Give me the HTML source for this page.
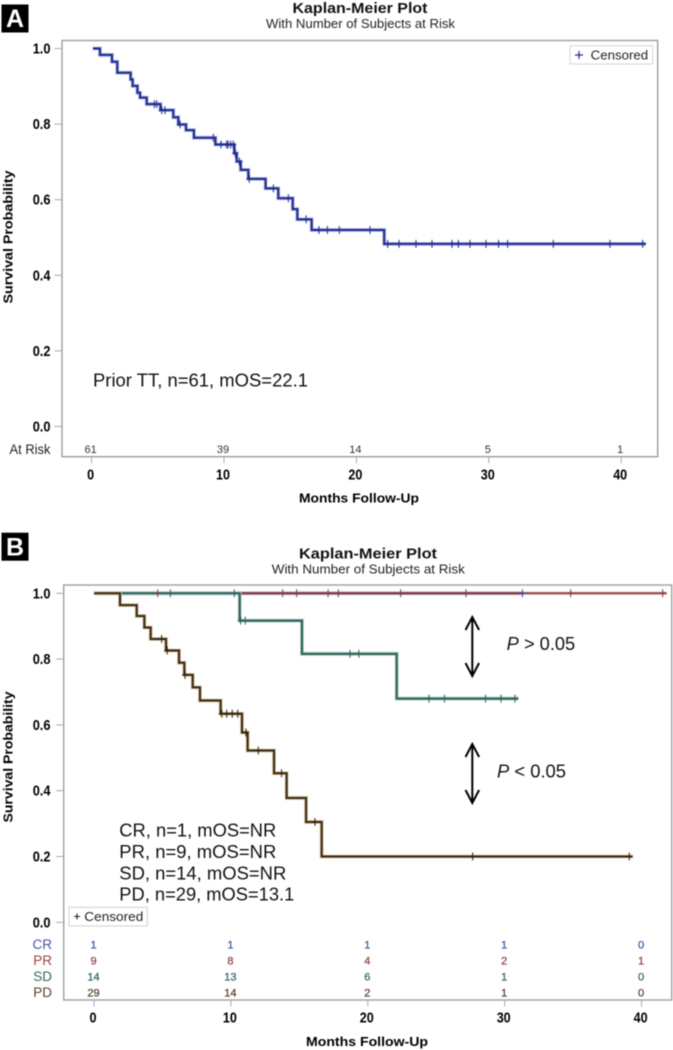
<!DOCTYPE html>
<html lang="en">
<head>
<meta charset="utf-8">
<title>Kaplan-Meier Plots</title>
<style>
html,body{margin:0;padding:0;background:#fff;width:673px;height:1050px;overflow:hidden}
svg{display:block;filter:blur(.45px)}
text{font-family:"Liberation Sans",Arial,sans-serif}
.title{font-size:15px;font-weight:bold;fill:#111;text-anchor:middle}
.sub{font-size:12.5px;fill:#222;text-anchor:middle}
.axt{font-size:13px;font-weight:bold;fill:#000}
.note{font-size:18px;fill:#111}
.leg{font-size:12.5px;fill:#222}
.badge{font-size:25px;font-weight:bold;fill:#fff;text-anchor:middle}
.frame{fill:#fff;stroke:#a0a4a9;stroke-width:1.5}
</style>
</head>
<body>
<svg id="fig" xmlns="http://www.w3.org/2000/svg" width="673" height="1050" viewBox="0 0 673 1050">
  <rect x="0" y="0" width="673" height="1050" fill="#fff"/>

  <g id="panelA">
    <rect x="1.5" y="4.5" width="27" height="28" fill="#000"/>
    <text class="badge" x="15" y="27">A</text>
    <text class="title" x="360" y="13" textLength="135" lengthAdjust="spacingAndGlyphs">Kaplan-Meier Plot</text>
    <text class="sub" x="360.5" y="28" textLength="189" lengthAdjust="spacingAndGlyphs">With Number of Subjects at Risk</text>
    <rect class="frame" x="62" y="40.5" width="595.7" height="416.2"/>
    <text class="axt" transform="translate(12.5,237) rotate(-90)" text-anchor="middle" textLength="133" lengthAdjust="spacingAndGlyphs">Survival Probability</text>
    <text class="axt" x="359" y="502.5" text-anchor="middle" textLength="120" lengthAdjust="spacingAndGlyphs">Months Follow-Up</text>
    <text class="note" x="93" y="386.5" textLength="215" lengthAdjust="spacingAndGlyphs">Prior TT, n=61, mOS=22.1</text>
    <rect x="570" y="45.7" width="82.7" height="18.3" fill="#fff" stroke="#d2d4d8" stroke-width="1"/>
    <path d="M575 55h8M579 51v8" stroke="#2a2f8c" stroke-width="1.2" fill="none"/>
    <text class="leg" x="590.7" y="59.5" textLength="57.5" lengthAdjust="spacingAndGlyphs">Censored</text>
    <text x="9.5" y="454" font-size="14" fill="#222" textLength="41" lengthAdjust="spacingAndGlyphs">At Risk</text>
  </g>

  <g id="panelB">
    <rect x="1.5" y="532.7" width="27" height="28" fill="#000"/>
    <text class="badge" x="15" y="555.5">B</text>
    <text class="title" x="368" y="558.5" textLength="138" lengthAdjust="spacingAndGlyphs">Kaplan-Meier Plot</text>
    <text class="sub" x="368.3" y="573.5" textLength="193" lengthAdjust="spacingAndGlyphs">With Number of Subjects at Risk</text>
    <rect class="frame" x="63.7" y="585" width="608" height="415"/>
    <text class="axt" transform="translate(12.5,757) rotate(-90)" text-anchor="middle" textLength="131" lengthAdjust="spacingAndGlyphs">Survival Probability</text>
    <text class="axt" x="367" y="1046" text-anchor="middle" textLength="122" lengthAdjust="spacingAndGlyphs">Months Follow-Up</text>
    <text class="note" x="119.3" y="836.7" textLength="157" lengthAdjust="spacingAndGlyphs">CR, n=1, mOS=NR</text>
    <text class="note" x="119.3" y="858" textLength="157" lengthAdjust="spacingAndGlyphs">PR, n=9, mOS=NR</text>
    <text class="note" x="119.3" y="879.3" textLength="167" lengthAdjust="spacingAndGlyphs">SD, n=14, mOS=NR</text>
    <text class="note" x="119.3" y="900.7" textLength="175" lengthAdjust="spacingAndGlyphs">PD, n=29, mOS=13.1</text>
    <rect x="69" y="907.3" width="78.3" height="18.7" fill="#fff" stroke="#cfd1d4" stroke-width="1"/>
    <path d="M74 916.5h6M77 913.5v6" stroke="#222" stroke-width="1.1" fill="none"/>
    <text class="leg" x="84.3" y="920.8" textLength="59" lengthAdjust="spacingAndGlyphs">Censored</text>
    <g fill="none" stroke="#000" stroke-width="2">
      <path d="M472.3 617.5V676M465.5 630l6.8-13 6.8 13M465.5 663l6.8 13 6.8-13"/>
    </g>
    <g fill="none" stroke="#000" stroke-width="2">
      <path d="M472.3 744V802.5M465.5 757l6.8-13 6.8 13M465.5 790l6.8 13 6.8-13"/>
    </g>
    <text class="note" x="506.7" y="650" textLength="68.5" lengthAdjust="spacingAndGlyphs"><tspan font-style="italic">P</tspan> &gt; 0.05</text>
    <text class="note" x="497" y="777.5" textLength="69" lengthAdjust="spacingAndGlyphs"><tspan font-style="italic">P</tspan> &lt; 0.05</text>
  </g>
</svg>
<script>
// Shared axis ticks
const xTickValues = [0, 10, 20, 30, 40];
const yTickValues = [0, 0.2, 0.4, 0.6, 0.8, 1];
const xTickLabels = ['0', '10', '20', '30', '40'];
const yTickLabels = ['0.0', '0.2', '0.4', '0.6', '0.8', '1.0'];

// Panel A: Prior TT
const priorStart = 0.1;
const priorEnd = 41.87;
const priorDropTimes = [0.63, 1.54, 1.94, 2.95, 3.1, 3.46, 3.66, 4.16, 5.2, 6.17, 6.55, 7.13, 7.73, 9.35, 10.78, 10.96, 11.26, 11.84, 13.14, 14.1, 15.19, 15.54, 16.62, 22.1];
const priorDropValues = [0.983, 0.965, 0.936, 0.918, 0.901, 0.883, 0.87, 0.853, 0.837, 0.818, 0.799, 0.784, 0.764, 0.746, 0.723, 0.701, 0.679, 0.655, 0.63, 0.604, 0.575, 0.548, 0.52, 0.483];
const priorCensorTimes = [4.74, 4.91, 5.3, 5.54, 6.68, 9.19, 9.77, 10.2, 10.3, 10.5, 10.7, 10.85, 11.16, 11.91, 13.73, 14.86, 16.2, 17.17, 17.81, 18.71, 21.03, 22.36, 23.22, 24.5, 25.71, 27.22, 27.7, 28.58, 29.79, 30.74, 31.42, 34.87, 39.15, 41.62];
const priorRiskCounts = [61, 39, 14, 5, 1];

// Panel B: response groups
const groupNames = ['CR', 'PR', 'SD', 'PD'];
const crDropTimes = [];
const crDropValues = [];
const crEnd = 31.3;
const crCensorTimes = [31.3];
const crRiskCounts = [1, 1, 1, 1, 0];

const prDropTimes = [];
const prDropValues = [];
const prEnd = 41.83;
const prCensorTimes = [4.65, 13.78, 14.8, 17.1, 17.85, 22.4, 27.17, 34.82, 41.54];
const prRiskCounts = [9, 8, 4, 2, 1];

const sdDropTimes = [10.64, 15.19, 22.11];
const sdDropValues = [0.917, 0.816, 0.68];
const sdEnd = 31.0;
const sdCensorTimes = [5.58, 10.25, 10.71, 11.05, 18.7, 19.35, 24.47, 25.6, 28.6, 29.73, 30.75];
const sdRiskCounts = [14, 13, 6, 1, 0];

const pdDropTimes = [1.9, 3.12, 3.68, 4.14, 5.26, 6.21, 6.6, 7.21, 7.74, 9.25, 10.81, 11.22, 13.15, 14.07, 15.49, 16.63];
const pdDropValues = [0.964, 0.931, 0.896, 0.861, 0.826, 0.789, 0.752, 0.714, 0.674, 0.634, 0.577, 0.522, 0.453, 0.378, 0.305, 0.2];
const pdEnd = 39.35;
const pdCensorTimes = [4.94, 5.35, 6.65, 9.33, 9.69, 10.1, 10.5, 11.1, 12.0, 13.7, 16.14, 27.66, 39.1];
const pdRiskCounts = [29, 14, 2, 1, 0];

const SVGNS = 'http://www.w3.org/2000/svg';
const xA = t => 91.6 + t * 13.24;
const yA = s => 426.5 - s * 378;
const xB = t => 94 + t * 13.69;
const yB = s => 922.3 - s * 329;

function make(parent, tag, attrs, txt) {
  const el = document.createElementNS(SVGNS, tag);
  for (const k in attrs) el.setAttribute(k, attrs[k]);
  if (txt !== undefined) el.textContent = txt;
  parent.appendChild(el);
  return el;
}
function stepPath(start, end, times, values, xf, yf) {
  let d = 'M' + xf(start) + ' ' + yf(1);
  times.forEach((t, i) => {
    d += 'H' + xf(t) + 'V' + yf(values[i]);
  });
  return d + 'H' + xf(end);
}
function survivalAt(t, times, values) {
  let s = 1;
  times.forEach((dt, i) => { if (t >= dt) s = values[i]; });
  return s;
}
function labelWidth(s) {
  return s.replace('.', '').length * 7 + (s.includes('.') ? 3.8 : 0);
}
function drawAxes(g, xf, yf, frameLeft, frameBottom, tickBaseline, prefix) {
  yTickValues.forEach((v, i) => {
    const tick = make(g, 'line', {x1: frameLeft - 7.5, x2: frameLeft, y1: yf(v), y2: yf(v), stroke: '#a4a8ad', 'stroke-width': 1});
    
    
    const lab = make(g, 'text', {x: 50.5, y: yf(v) + 5, 'text-anchor': 'end', 'font-size': 14.5, 'font-weight': 'bold', fill: '#000', textLength: labelWidth(yTickLabels[i]), lengthAdjust: 'spacingAndGlyphs'}, yTickLabels[i]);
    
    
  });
  xTickValues.forEach((v, i) => {
    const tick = make(g, 'line', {x1: xf(v), x2: xf(v), y1: frameBottom, y2: frameBottom + 6.5, stroke: '#a4a8ad', 'stroke-width': 1});
    
    
    const lab = make(g, 'text', {x: xf(v) - 1, y: tickBaseline, 'text-anchor': 'middle', 'font-size': 14.5, 'font-weight': 'bold', fill: '#000', textLength: labelWidth(xTickLabels[i]), lengthAdjust: 'spacingAndGlyphs'}, xTickLabels[i]);
    
    
  });
}
function drawCurve(g, start, end, times, values, xf, yf, color, halo, name, opacity) {
  const h = make(g, 'path', {d: stepPath(start, end, times, values, xf, yf), fill: 'none', stroke: halo, 'stroke-width': 3.8, 'stroke-linejoin': 'miter'});
  
  
  const l = make(g, 'path', {d: stepPath(start, end, times, values, xf, yf), fill: 'none', stroke: color, 'stroke-width': 2, 'stroke-linejoin': 'miter', opacity: opacity});
  
  
}
function drawCensors(g, censorTimes, times, values, xf, yf, color, name) {
  censorTimes.forEach(t => {
    const s = survivalAt(t, times, values);
    const m = make(g, 'path', {d: 'M' + xf(t) + ' ' + (yf(s) - 4) + 'v8M' + (xf(t) - 3) + ' ' + yf(s) + 'h6', fill: 'none', stroke: color, 'stroke-width': 1});
    
    
  });
}

const pA = document.getElementById('panelA');
const pB = document.getElementById('panelB');

// Panel A
drawAxes(pA, xA, yA, 62, 456.7, 479.3, 'panel-a');
drawCurve(pA, priorStart, priorEnd, priorDropTimes, priorDropValues, xA, yA, '#1c2a8e', '#b4b8e0', 'prior-tt', 1);
drawCensors(pA, priorCensorTimes, priorDropTimes, priorDropValues, xA, yA, '#1c2a8e', 'prior-tt');
priorRiskCounts.forEach((n, i) => {
  const t = make(pA, 'text', {x: xA(xTickValues[i]) - 1, y: 453, 'text-anchor': 'middle', 'font-size': 11, fill: '#333'}, n);
  
  
});

// Panel B
drawAxes(pB, xB, yB, 63.7, 1000, 1022.7, 'panel-b');
drawCurve(pB, 0, crEnd, crDropTimes, crDropValues, xB, yB, '#1c2a8e', '#c0c2e0', 'cr', 1);
drawCurve(pB, 0, prEnd, prDropTimes, prDropValues, xB, yB, '#7c2a2e', 'rgba(225,190,190,.45)', 'pr', 0.85);
drawCurve(pB, 0, sdEnd, sdDropTimes, sdDropValues, xB, yB, '#2c5f58', '#b0ccc6', 'sd', 1);
drawCurve(pB, 0, pdEnd, pdDropTimes, pdDropValues, xB, yB, '#3c2810', '#cfc2a4', 'pd', 1);
drawCensors(pB, crCensorTimes, crDropTimes, crDropValues, xB, yB, '#3a46a8', 'cr');
drawCensors(pB, prCensorTimes, prDropTimes, prDropValues, xB, yB, '#8a3438', 'pr');
drawCensors(pB, sdCensorTimes, sdDropTimes, sdDropValues, xB, yB, '#2c5f58', 'sd');
drawCensors(pB, pdCensorTimes, pdDropTimes, pdDropValues, xB, yB, '#2e1e0a', 'pd');

const groupColors = ['#4a52a6', '#9c4040', '#30695e', '#5a4226'];
const groupCounts = [crRiskCounts, prRiskCounts, sdRiskCounts, pdRiskCounts];
groupNames.forEach((g, r) => {
  const rowY = 948.5 + r * 16;
  const lab = make(pB, 'text', {x: 52, y: rowY + 0.5, 'text-anchor': 'end', 'font-size': 13.5, fill: groupColors[r]}, g);
  
  
  groupCounts[r].forEach((n, i) => {
    const t = make(pB, 'text', {x: xB(xTickValues[i]) - 0.5, y: rowY, 'text-anchor': 'middle', 'font-size': 11, fill: groupColors[r], stroke: groupColors[r], 'stroke-width': 0.25}, n);
    
    
  });
});
</script>
</body>
</html>
